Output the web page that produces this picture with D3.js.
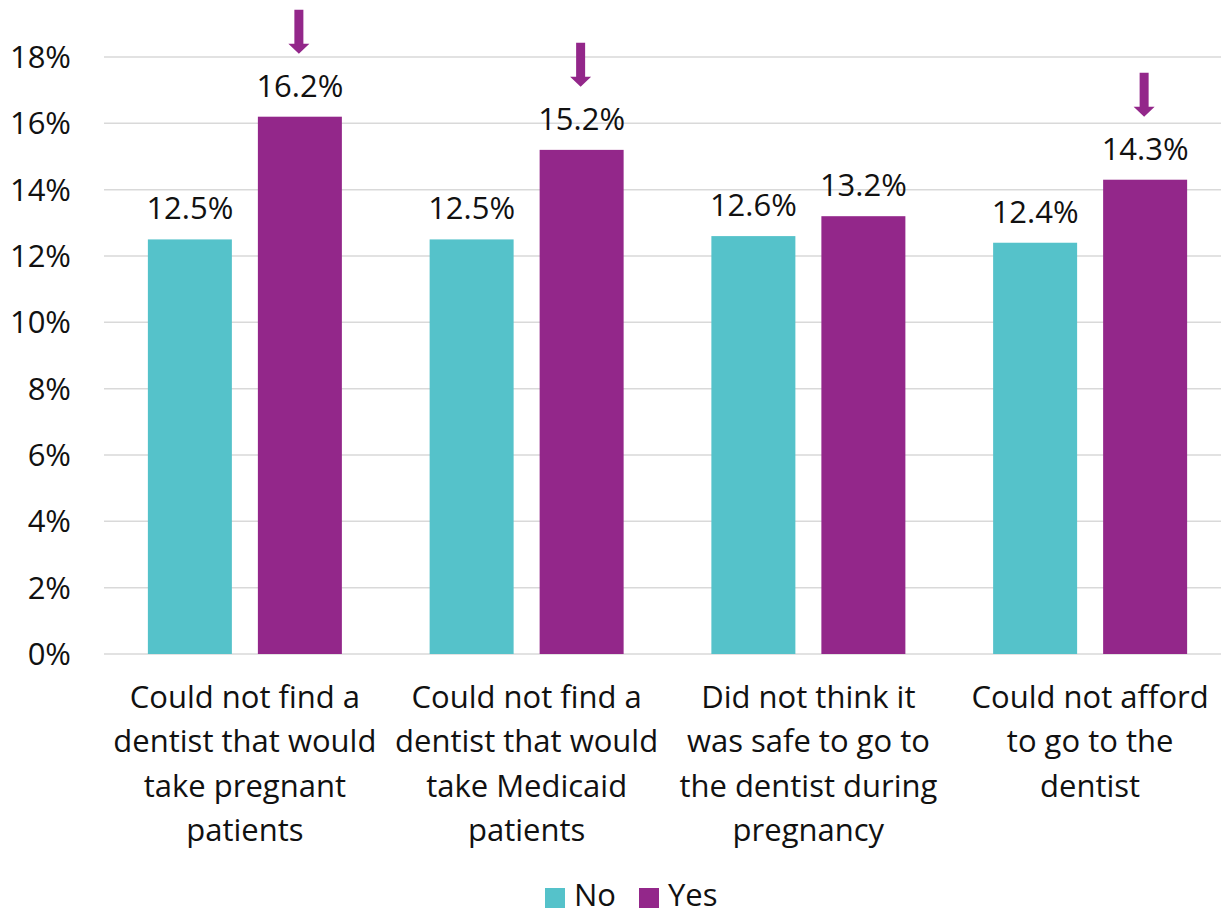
<!DOCTYPE html>
<html><head><meta charset="utf-8">
<script src="https://cdn.jsdelivr.net/npm/d3@7"></script>
<style>body{margin:0;background:#fff}svg{display:block}text{font-family:"Open Sans",sans-serif;fill:#111}</style>
</head><body><svg id="c" width="1221" height="911"></svg>
<script>
const categories = [
  ["Could not find a","dentist that would","take pregnant","patients"],
  ["Could not find a","dentist that would","take Medicaid","patients"],
  ["Did not think it","was safe to go to","the dentist during","pregnancy"],
  ["Could not afford","to go to the","dentist"]
];
const series = ["No","Yes"];
const noValues = [12.5, 12.5, 12.6, 12.4];
const yesValues = [16.2, 15.2, 13.2, 14.3];
const arrowFlags = [true, true, false, true];
const yTicks = [0,2,4,6,8,10,12,14,16,18];
const colors = {No:"#55C2CA", Yes:"#93278A"};

const FS = 31;
const svg = d3.select("#c");
const plotLeft = 104, plotRight = 1231, plotTop = 57, plotBottom = 654;
const y = d3.scaleLinear().domain([0,18]).range([plotBottom, plotTop]);
const x0 = d3.scaleBand().domain(d3.range(categories.length)).range([plotLeft, plotRight]);
const bw = x0.bandwidth();
const x1 = d3.scaleBand().domain(series).range([(bw-194)/2, (bw+194)/2]).paddingInner(0.2364);

// gridlines
svg.append("g").selectAll("line").data(yTicks).join("line")
  .attr("x1", plotLeft).attr("x2", 1221)
  .attr("y1", d=>y(d)).attr("y2", d=>y(d))
  .attr("stroke", "#d9d9d9").attr("stroke-width", 1.5);

// y tick labels
svg.append("g").selectAll("text").data(yTicks).join("text")
  .attr("x", 71).attr("y", d=>y(d)).attr("dy","0.35em")
  .attr("text-anchor","end").attr("font-size", FS)
  .text(d=>d+"%");

const rows = [];
categories.forEach((c,i)=>{
  rows.push({i, s:"No", v:noValues[i]});
  rows.push({i, s:"Yes", v:yesValues[i]});
});

const g = svg.append("g");
g.selectAll("rect").data(rows).join("rect")
  .attr("x", d=>x0(d.i)+x1(d.s)).attr("width", x1.bandwidth())
  .attr("y", d=>y(d.v)).attr("height", d=>y(0)-y(d.v))
  .attr("fill", d=>colors[d.s]);

g.selectAll("text.val").data(rows).join("text").attr("class","val")
  .attr("x", d=>x0(d.i)+x1(d.s)+x1.bandwidth()/2)
  .attr("y", d=>y(d.v)-20)
  .attr("text-anchor","middle").attr("font-size", FS)
  .text(d=>d.v.toFixed(1)+"%");

// arrows
const arrows = rows.filter(d=>d.s==="Yes" && arrowFlags[d.i]);
g.selectAll("path.arrow").data(arrows).join("path").attr("class","arrow")
  .attr("fill", colors.Yes)
  .attr("d", d=>{
    const cx = x0(d.i)+x1(d.s)+x1.bandwidth()/2 - 1;
    const tip = y(d.v)-63;
    const topY = tip-44;
    const sw = 4.5, hw = 10.5, hh = 10;
    return `M${cx-sw},${topY}L${cx+sw},${topY}L${cx+sw},${tip-hh}L${cx+hw},${tip-hh}L${cx},${tip}L${cx-hw},${tip-hh}L${cx-sw},${tip-hh}Z`;
  });

// category labels
const cat = svg.append("g");
categories.forEach((lines,i)=>{
  const cx = x0(i)+bw/2;
  const t = cat.append("text").attr("text-anchor","middle").attr("font-size",FS)
    .attr("x", cx).attr("y", 708);
  lines.forEach((l,k)=>t.append("tspan").attr("x", cx).attr("y", 708+k*44.3).text(l));
});

// legend
const legend = svg.append("g");
const litems = [{s:"No", x:545},{s:"Yes", x:639}];
litems.forEach(it=>{
  legend.append("rect").attr("x", it.x).attr("y", 888).attr("width",20).attr("height",20).attr("fill", colors[it.s]);
  legend.append("text").attr("x", it.x+29).attr("y", 906).attr("font-size",FS).text(it.s);
});
</script></body></html>
